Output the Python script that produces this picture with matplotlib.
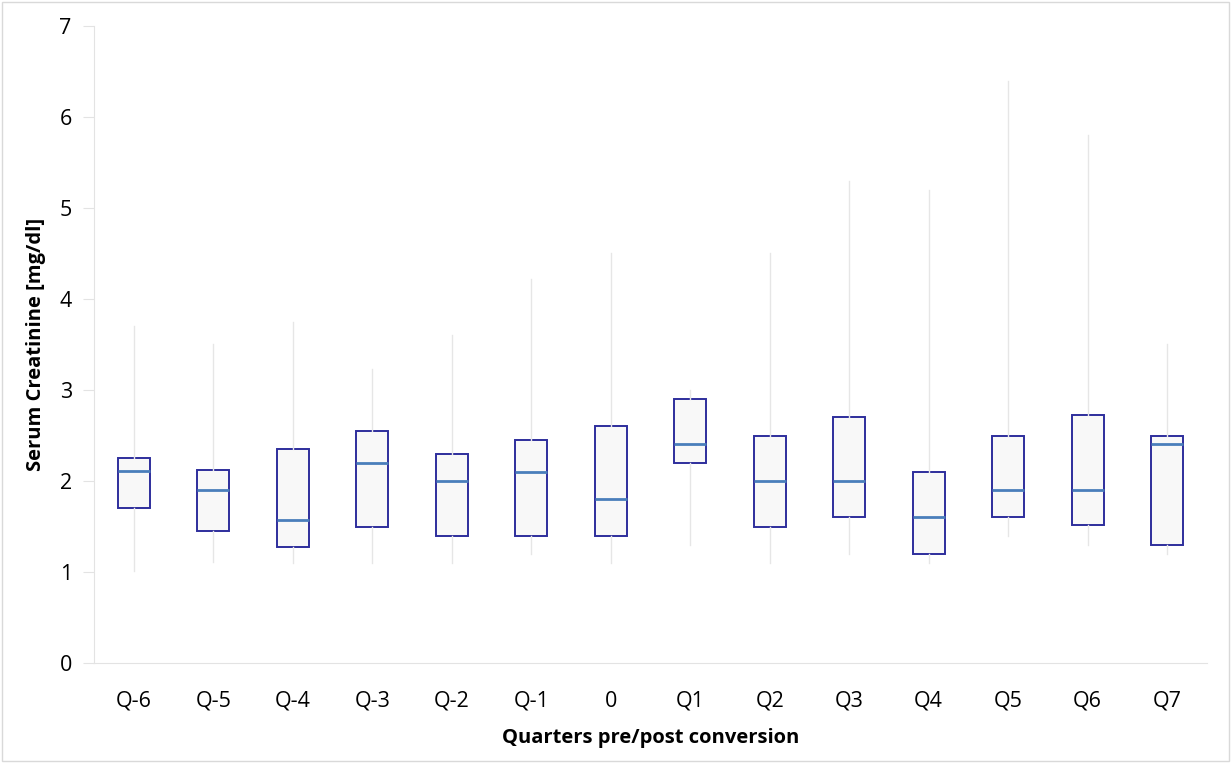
import matplotlib.pyplot as plt

# data
quarters = ['Q-6', 'Q-5', 'Q-4', 'Q-3', 'Q-2', 'Q-1', '0',
            'Q1', 'Q2', 'Q3', 'Q4', 'Q5', 'Q6', 'Q7']
whisker_low = [1.01, 1.11, 1.10, 1.10, 1.10, 1.20, 1.10,
               1.30, 1.10, 1.20, 1.10, 1.40, 1.30, 1.20]
q1_vals = [1.70, 1.45, 1.27, 1.50, 1.40, 1.40, 1.40,
           2.20, 1.50, 1.60, 1.20, 1.60, 1.52, 1.30]
medians = [2.11, 1.90, 1.57, 2.20, 2.00, 2.10, 1.80,
           2.41, 2.00, 2.00, 1.60, 1.90, 1.90, 2.41]
q3_vals = [2.25, 2.12, 2.35, 2.55, 2.30, 2.45, 2.60,
           2.90, 2.50, 2.70, 2.10, 2.50, 2.73, 2.50]
whisker_high = [3.70, 3.50, 3.75, 3.23, 3.60, 4.22, 4.50,
                3.00, 4.50, 5.30, 5.20, 6.40, 5.80, 3.50]

plt.rcParams['font.family'] = ['Open Sans', 'DejaVu Sans']

fig = plt.figure(figsize=(12.31, 7.63), dpi=100)
ax = fig.add_axes([0.0764, 0.131, 0.904, 0.835])

stats = []
for i, name in enumerate(quarters):
    stats.append({
        'label': name,
        'whislo': whisker_low[i],
        'q1': q1_vals[i],
        'med': medians[i],
        'q3': q3_vals[i],
        'whishi': whisker_high[i],
        'fliers': [],
    })

positions = list(range(len(quarters)))
ax.bxp(stats, positions=positions, widths=0.4, patch_artist=True,
       showcaps=False, showfliers=False,
       boxprops=dict(facecolor='#F8F8F8', edgecolor='#2E2E9C', linewidth=1.4),
       whiskerprops=dict(color='#E6E6E6', linewidth=1.0),
       medianprops=dict(color='#4A7EBB', linewidth=2.0))

ax.set_xlim(-0.5, len(quarters) - 0.5)
ax.set_ylim(0, 7)
ax.set_yticks(range(0, 8))
ax.set_xticks(positions)
ax.set_xticklabels(quarters)

for s in ['top', 'right']:
    ax.spines[s].set_visible(False)
for s in ['left', 'bottom']:
    ax.spines[s].set_color('#E3E3E3')
ax.tick_params(axis='y', colors='#E3E3E3', labelcolor='black', length=8,
               labelsize=15.5, pad=8)
ax.tick_params(axis='x', length=0, labelsize=15.5, pad=20)

ax.set_ylabel('Serum Creatinine [mg/dl]', fontsize=14.5, fontweight='bold', labelpad=10)
ax.set_xlabel('Quarters pre/post conversion', fontsize=14.5, fontweight='bold', labelpad=12)

# light frame around the whole chart
fig.patches.append(plt.Rectangle((0.002, 0.002), 0.996, 0.996, transform=fig.transFigure,
                                 fill=False, edgecolor='#D9D9D9', linewidth=1.0))

fig.savefig('out.png', dpi=100)
